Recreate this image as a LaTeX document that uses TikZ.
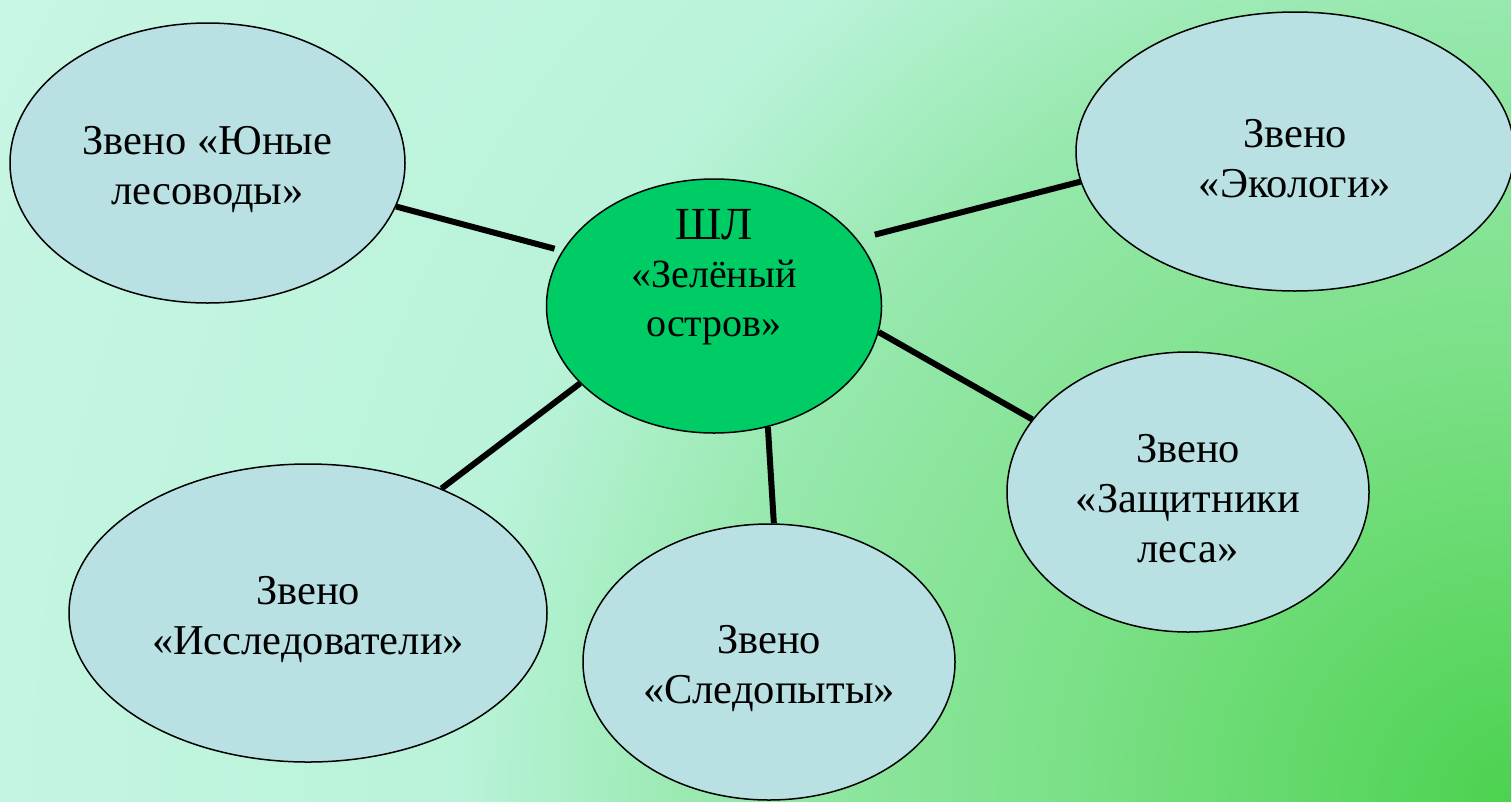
\documentclass[tikz,border=0pt]{standalone}
\usepackage{fontspec}
\setmainfont{Liberation Serif}
\usetikzlibrary{shapes.geometric}

\definecolor{meadowA}{HTML}{4CD250}
\definecolor{meadowB}{HTML}{7BE086}
\definecolor{meadowC}{HTML}{96E8AC}
\definecolor{meadowD}{HTML}{B9F3D9}
\definecolor{meadowE}{HTML}{C8F6E4}
\definecolor{petal}{HTML}{B9E0E2}
\definecolor{hubgreen}{HTML}{00CC66}

\pgfdeclareradialshading{meadow}{\pgfpoint{0bp}{0bp}}{%
  color(0bp)=(meadowA); color(435bp)=(meadowB); color(786bp)=(meadowC);
  color(1050bp)=(meadowD); color(1720bp)=(meadowE)}

\tikzset{
  branch/.style={ellipse, draw, line width=1.5pt, fill=petal, inner sep=0pt,
    align=center, font=\fontsize{42.5}{50}\selectfont},
  link/.style={line width=6pt},
}

\begin{document}
\begin{tikzpicture}[x=1pt, y=-1pt]

	\useasboundingbox (0,0) rectangle (1511,801);
	\begin{scope}
	  \clip (0,0) rectangle (1511,801);
	  \pgftransformshift{\pgfpointxy{1511}{801}}
	  \pgflowlevelsynccm
	  \pgfuseshading{meadow}
	\end{scope}

	\node [branch, fill=hubgreen, minimum width=335, minimum height=254] (hub) at (714,306) {};
	\node [align=center, font=\fontsize{40}{48.5}\selectfont] (hub-text) at ([yshift=29]hub.center)
	  {{\fontsize{46}{48.5}\selectfont ШЛ}\\«Зелёный\\остров»};

	\foreach \n/\x/\y/\w/\h/\t in {
	    young/207.5/163/395/280/{Звено «Юные\\лесоводы»},
	    eco/1295/151.5/438/279/{Звено\\«Экологи»},
	    guard/1188/492/362/280/{Звено\\«Защитники\\леса»},
	    track/769/662/372/276/{Звено\\«Следопыты»},
	    research/308/613/478/298/{Звено\\«Исследователи»}}
	  \node [branch, minimum width=\w, minimum height=\h] (\n) at (\x,\y) {\rule{0pt}{42pt}\t};

	\foreach \a/\n/\b/\s in {160.3/young/-13.2/8, 25.5/eco/188.3/18,
	    -9.6/guard/155.5/0, -66.5/track/88.8/0, 210.6/research/43.9/0}
	  \draw [link, shorten <=\s pt] (hub.\a) -- (\n.\b);

\end{tikzpicture}
\end{document}
